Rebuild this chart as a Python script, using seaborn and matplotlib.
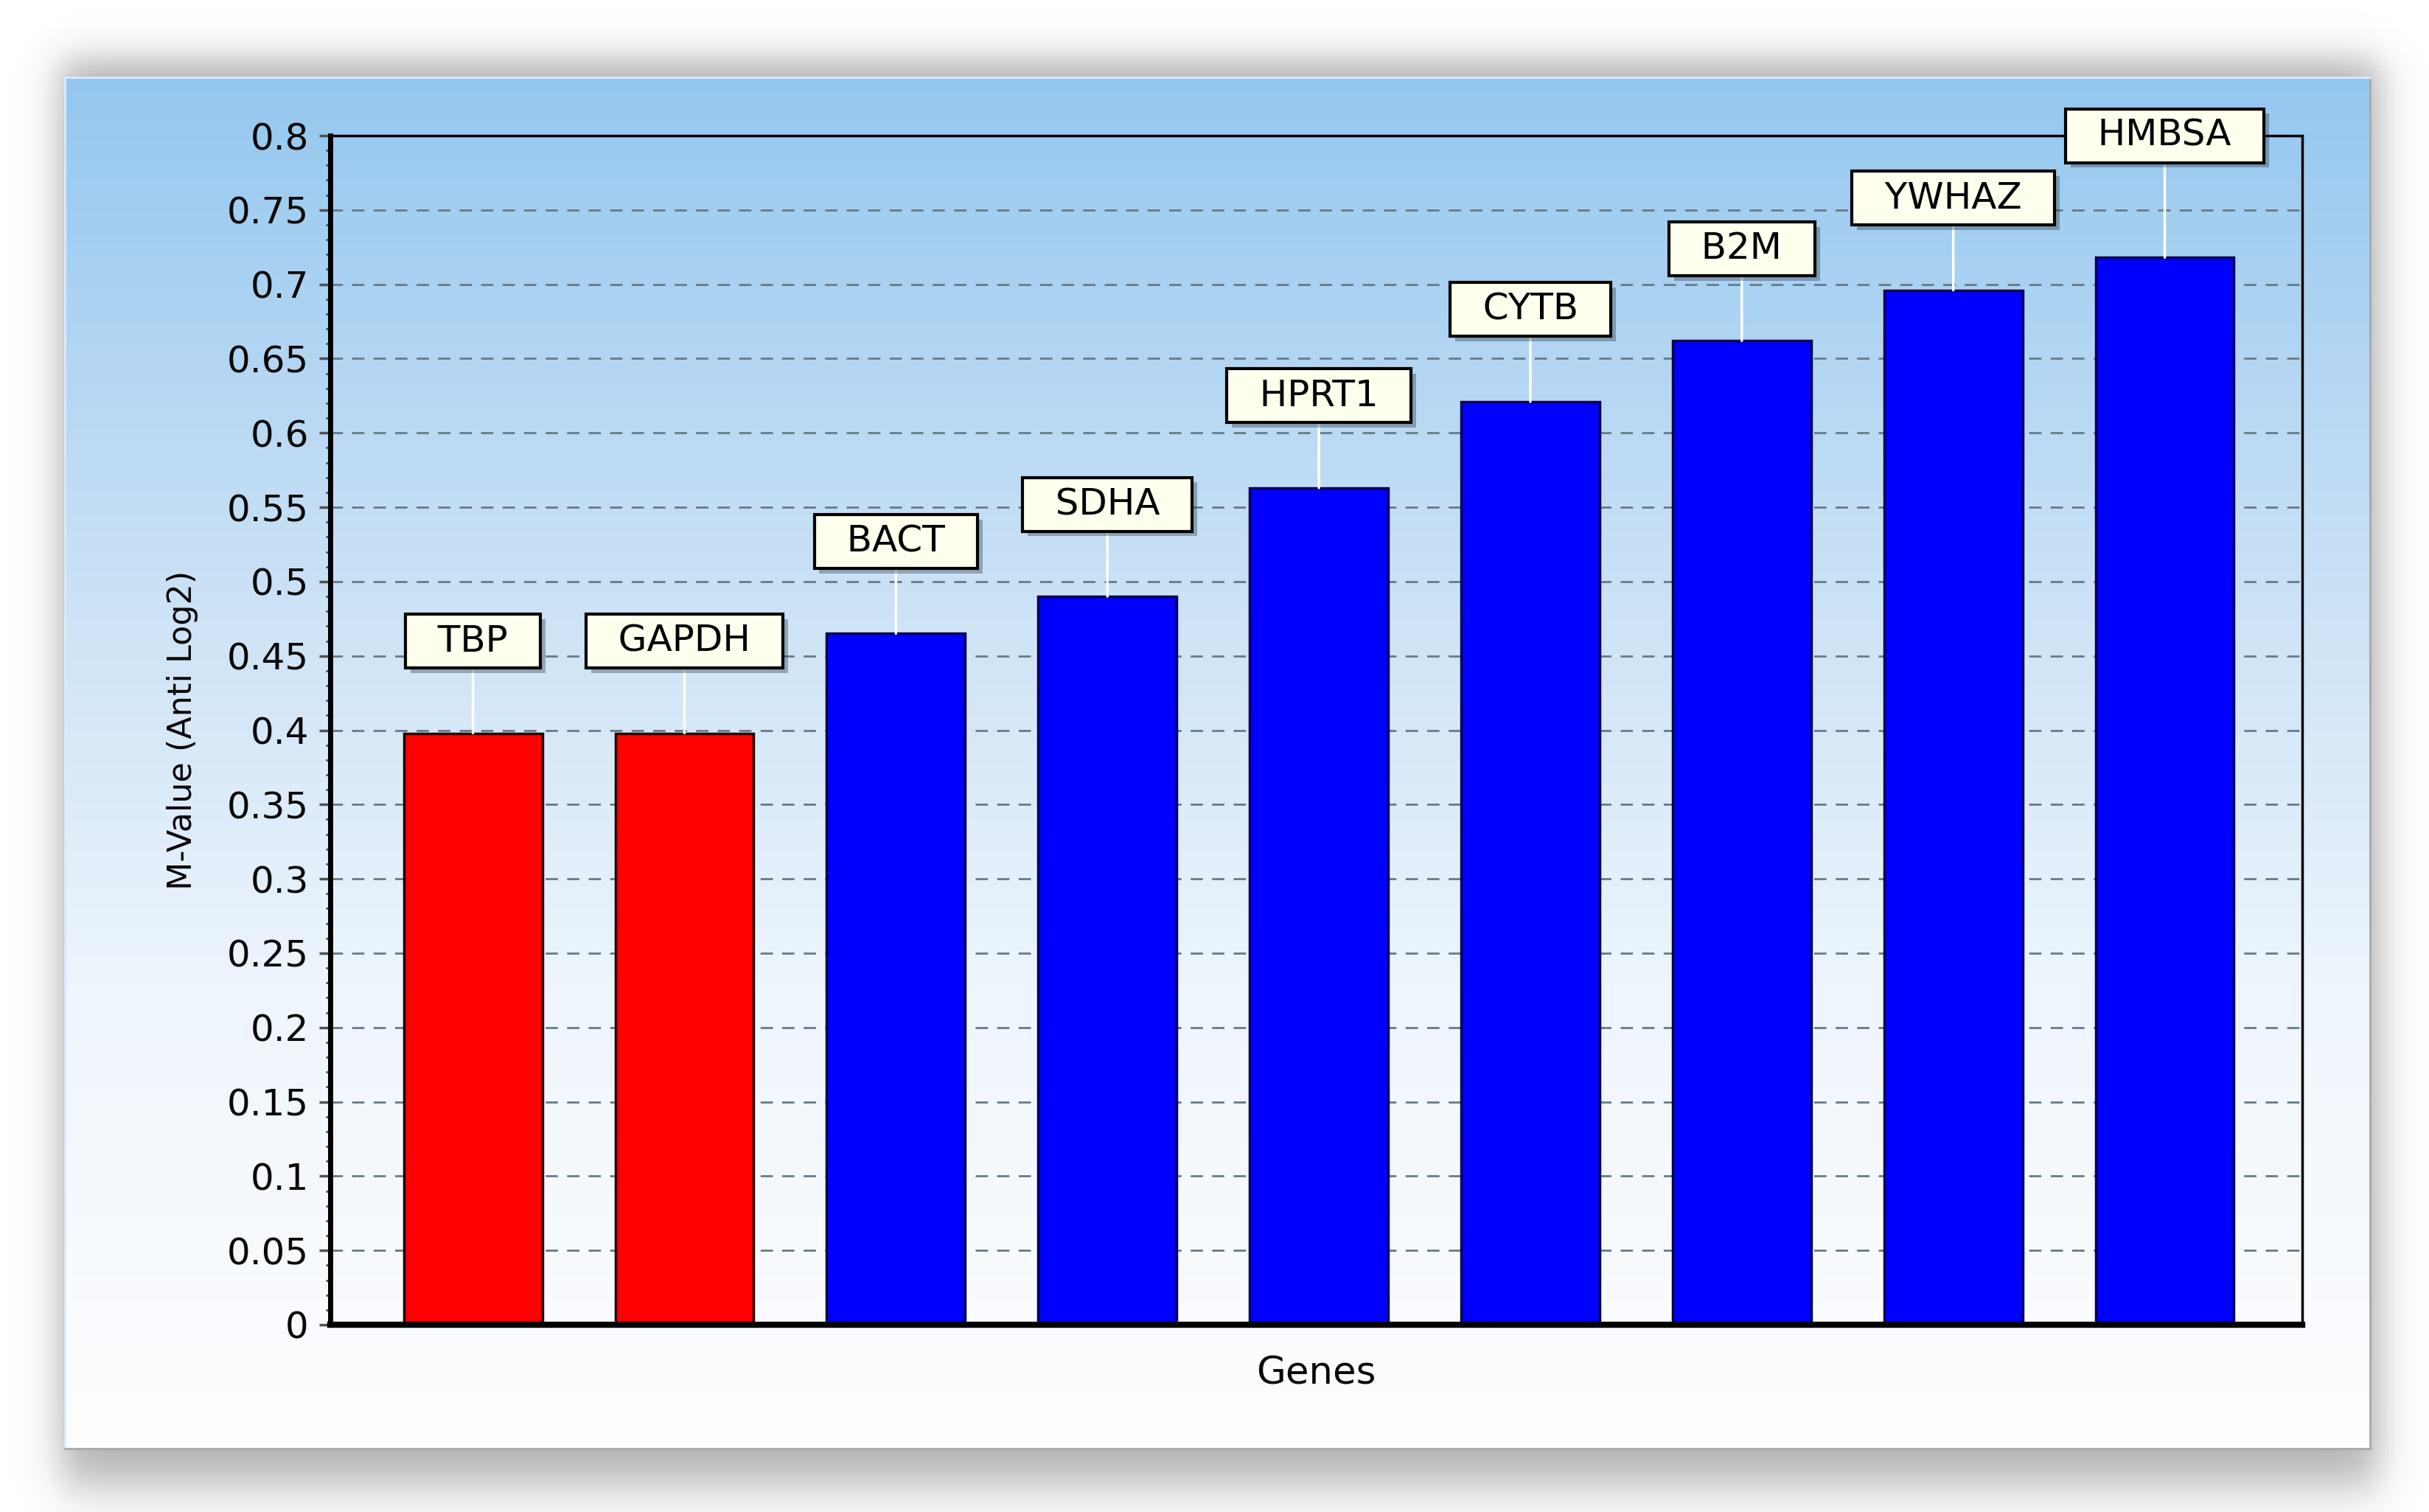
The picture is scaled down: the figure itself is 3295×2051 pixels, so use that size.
import matplotlib
matplotlib.use("Agg")
import matplotlib.pyplot as plt
import pandas as pd
import numpy as np
import seaborn as sns
from matplotlib.colors import LinearSegmentedColormap
from matplotlib.ticker import MultipleLocator
import matplotlib.patheffects as pe

# M-values
genes = ['TBP', 'GAPDH', 'BACT', 'SDHA', 'HPRT1', 'CYTB', 'B2M', 'YWHAZ', 'HMBSA']
m_values = [0.398, 0.398, 0.465, 0.490, 0.563, 0.621, 0.662, 0.696, 0.718]
bar_colors = ['#ff0000', '#ff0000', '#0000ff', '#0000ff', '#0000ff',
              '#0000ff', '#0000ff', '#0000ff', '#0000ff']
edge_colors = ['#1a0000', '#1a0000', '#000050', '#000050', '#000050',
               '#000050', '#000050', '#000050', '#000050']
y_ticks = np.arange(0, 0.801, 0.05)
y_tick_labels = ['0', '0.05', '0.1', '0.15', '0.2', '0.25', '0.3', '0.35', '0.4',
                 '0.45', '0.5', '0.55', '0.6', '0.65', '0.7', '0.75', '0.8']

df = pd.DataFrame({'gene': genes, 'm': m_values})

sns.set_style('white')
plt.rcParams['font.family'] = ['DejaVu Sans']

W, H = 3295, 2051
fig = plt.figure(figsize=(W / 100, H / 100), dpi=100)
fig.patch.set_facecolor('white')

# panel position (pixels)
px0, px1, py0, py1 = 88, 3215, 105, 1965

# soft drop shadow behind the panel, heavier at the bottom
sh = fig.add_axes([0, 0, 1, 1], zorder=-2)
xs = np.linspace(0, W, 660)
ys = np.linspace(0, H, 410)
X, Y = np.meshgrid(xs, ys)
w = 30
sx = 0.5 * (np.tanh((X - (px0 - 8)) / w) - np.tanh((X - (px1 + 14)) / w))
sy = 0.5 * (np.tanh((Y - (py0 - 25)) / w) - np.tanh((Y - (py1 + 50)) / (w * 1.4)))
alpha = np.clip(sx * sy, 0, 1) * 0.5
img = np.zeros((len(ys), len(xs), 4))
img[..., :3] = 0.38
img[..., 3] = alpha
sh.imshow(img, extent=[0, W, H, 0], aspect='auto')
sh.set_xlim(0, W)
sh.set_ylim(H, 0)
sh.axis('off')

# gradient panel
bg = fig.add_axes([px0 / W, 1 - py1 / H, (px1 - px0) / W, (py1 - py0) / H], zorder=0)
cmap = LinearSegmentedColormap.from_list('bg', ['#94c7ef', '#c6dff5', '#eef5fc', '#fefeff'])
grad = np.linspace(0, 1, 400).reshape(-1, 1)
bg.imshow(grad, aspect='auto', cmap=cmap, extent=[0, 1, 0, 1], origin='upper')
bg.set_xticks([])
bg.set_yticks([])
for s, sp in bg.spines.items():
    sp.set_color('#a8a8a8')
    sp.set_linewidth(2)
bg.spines['top'].set_color('#d8ecfa')
bg.spines['left'].set_color('#d8ecfa')

# main axes
ax = fig.add_axes([448 / W, 1 - 1797 / H, (3123 - 448) / W, (1797 - 184) / H], zorder=1)
ax.set_facecolor('none')

sns.barplot(data=df, x='gene', y='m', hue='gene', palette=bar_colors,
            legend=False, width=0.655, ax=ax, saturation=1)
for p, ec in zip(ax.patches, edge_colors):
    p.set_edgecolor(ec)
    p.set_linewidth(2.5)

ax.set_ylim(0, 0.8)
ax.set_xlim(-0.675, len(genes) - 1 + 0.65)
ax.set_yticks(y_ticks)
ax.set_yticklabels(y_tick_labels)
ax.yaxis.set_minor_locator(MultipleLocator(0.01))
ax.set_xticks([])
ax.tick_params(axis='y', which='major', length=11, width=2.5, color='#505050',
               labelsize=36, pad=10, labelcolor='#080808', left=True)
ax.tick_params(axis='y', which='minor', length=4, width=2, color='#505050', left=True)

ax.set_axisbelow(True)
ax.yaxis.grid(True, color='#667a88', linewidth=2, linestyle=(0, (6, 4.5)))
ax.xaxis.grid(False)

ax.spines['left'].set_linewidth(5)
ax.spines['bottom'].set_linewidth(6)
ax.spines['top'].set_linewidth(2.5)
ax.spines['right'].set_linewidth(2.5)
for sp in ax.spines.values():
    sp.set_color('black')
    sp.set_zorder(5)

ax.set_ylabel('M-Value (Anti Log2)', fontsize=32, color='#080808', labelpad=28)
ax.set_xlabel('Genes', fontsize=37, color='#080808', labelpad=30)

# label boxes over the bars
label_y = [v + 0.062 for v in m_values]
label_y[-1] = 0.8
for i, (g, v, ly) in enumerate(zip(genes, m_values, label_y)):
    t = ax.annotate('  ' + g + '  ', xy=(i, v), xytext=(i, ly), ha='center', va='center',
                    fontsize=36, color='black', annotation_clip=False, zorder=6,
                    bbox=dict(boxstyle='square,pad=0.25', fc='#ffffee', ec='black', lw=3),
                    arrowprops=dict(arrowstyle='-', color='white', lw=2.5,
                                    shrinkA=0, shrinkB=0))
    t.get_bbox_patch().set_path_effects([
        pe.SimplePatchShadow(offset=(5, -5), shadow_rgbFace='#203040', alpha=0.35),
        pe.Normal()])

fig.savefig('out.png', dpi=100, facecolor='white')
